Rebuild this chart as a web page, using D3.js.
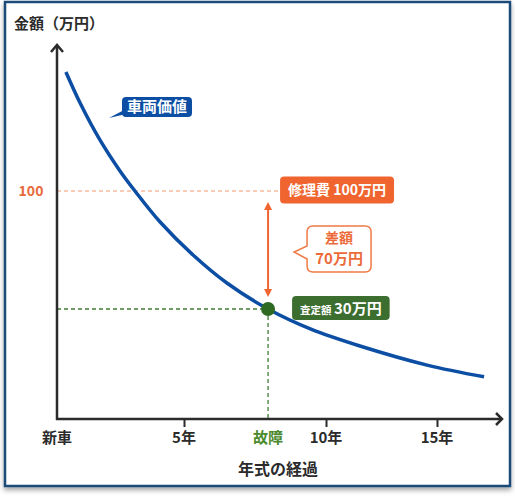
<!DOCTYPE html>
<html>
<head>
<meta charset="utf-8">
<script src="https://cdn.jsdelivr.net/npm/d3@7"></script>
<style>
  body { margin: 0; background: #fff; }
  svg { display: block; }
  text { font-family: "Noto Sans CJK JP", "Noto Sans", sans-serif; font-weight: bold; }
</style>
</head>
<body>
<div id="chart"></div>
<script>
// 車両価値の推移 (経過年, 万円)
var years  = [0.35, 0.91, 1.69, 2.48, 3.07, 4.06, 5.32, 6.51, 7.96, 9.47, 11.53, 14.55, 17.12];
var values = [170.6, 152.2, 130.3, 111.9, 100, 81.6, 62.0, 45.4, 30, 24.5, 19.9, 14.7, 11.5];

var xTicks = [0, 5, 10, 15];
var xTickLabels = ["新車", "5年", "10年", "15年"];
var yTicks = [100];
var yTickLabels = ["100"];

var failYear = 7.96;     // 故障
var repairCost = 100;    // 修理費
var assessed = 30;       // 査定額

var blue = "#0b4ea3", orange = "#f0652f", green = "#3c6e30", ink = "#2b2b2b";

var svg = d3.select("#chart")
    .append("svg")
    .attr("width", 515)
    .attr("height", 496);

// frame with a soft shadow
var defs = svg.append("defs");
defs.append("filter")
    .attr("id", "shadow")
    .attr("x", "-5%").attr("y", "-5%").attr("width", "110%").attr("height", "112%")
  .append("feDropShadow")
    .attr("dx", 0).attr("dy", 3)
    .attr("stdDeviation", 2.5)
    .attr("flood-color", "#000")
    .attr("flood-opacity", 0.35);

svg.append("rect")
    .attr("x", 5).attr("y", 2)
    .attr("width", 505).attr("height", 484)
    .attr("fill", "#fff")
    .attr("stroke", "#1f4b7a")
    .attr("stroke-width", 2.5)
    .attr("filter", "url(#shadow)");

// the illustration spaces its ticks unevenly, so piecewise scales
var x = d3.scaleLinear()
    .domain(xTicks)
    .range([57, 184, 326, 437]);

var y = d3.scaleLinear()
    .domain([0, assessed, repairCost])
    .range([419, 309, 191]);

var x0 = x(0), y0 = y(0);

// guides
svg.append("line")
    .attr("x1", x0).attr("x2", 281)
    .attr("y1", y(repairCost)).attr("y2", y(repairCost))
    .attr("stroke", "#f39a70")
    .attr("stroke-width", 1.2)
    .attr("stroke-dasharray", "4,3");

svg.append("line")
    .attr("x1", x0).attr("x2", x(failYear))
    .attr("y1", y(assessed)).attr("y2", y(assessed))
    .attr("stroke", "#3f7d35")
    .attr("stroke-width", 1.3)
    .attr("stroke-dasharray", "4,3");

svg.append("line")
    .attr("x1", x(failYear)).attr("x2", x(failYear))
    .attr("y1", y(assessed)).attr("y2", y0)
    .attr("stroke", "#3f7d35")
    .attr("stroke-width", 1.3)
    .attr("stroke-dasharray", "4,3");

// x axis
var xAxis = svg.append("g")
    .attr("transform", "translate(0," + y0 + ")")
    .call(d3.axisBottom(x)
        .tickValues(xTicks.slice(1))
        .tickSize(8)
        .tickFormat(""));
xAxis.select(".domain").remove();
xAxis.selectAll("line").attr("stroke", ink).attr("stroke-width", 2);

svg.append("line")
    .attr("x1", x0 - 1).attr("x2", 501)
    .attr("y1", y0).attr("y2", y0)
    .attr("stroke", ink).attr("stroke-width", 2.5);
svg.append("path")
    .attr("d", "M496," + (y0 - 6) + "L502," + y0 + "L496," + (y0 + 6))
    .attr("fill", "none").attr("stroke", ink).attr("stroke-width", 2.5);

// y axis
svg.append("line")
    .attr("x1", x0).attr("x2", x0)
    .attr("y1", y0 + 1).attr("y2", 46)
    .attr("stroke", ink).attr("stroke-width", 2.5);
svg.append("path")
    .attr("d", "M" + (x0 - 6) + ",52L" + x0 + ",45L" + (x0 + 6) + ",52")
    .attr("fill", "none").attr("stroke", ink).attr("stroke-width", 2.5);

// tick labels
svg.selectAll(".xlab")
    .data(xTicks)
    .enter().append("text")
    .attr("class", "xlab")
    .attr("x", function(d) { return x(d); })
    .attr("y", 438)
    .attr("dy", "0.35em")
    .attr("text-anchor", "middle")
    .style("font-size", "15px")
    .style("fill", ink)
    .text(function(d, i) { return xTickLabels[i]; });

svg.append("text")
    .attr("x", x(failYear))
    .attr("y", 438)
    .attr("dy", "0.35em")
    .attr("text-anchor", "middle")
    .style("font-size", "15px")
    .style("fill", "#4b8a2c")
    .text("故障");

svg.selectAll(".ylab")
    .data(yTicks)
    .enter().append("text")
    .attr("class", "ylab")
    .attr("x", 31)
    .attr("y", function(d) { return y(d); })
    .attr("dy", "0.35em")
    .attr("text-anchor", "middle")
    .style("font-size", "14px")
    .style("fill", "#e8693a")
    .text(function(d, i) { return yTickLabels[i]; });

// axis titles
svg.append("text")
    .attr("x", 14).attr("y", 24)
    .attr("dy", "0.35em")
    .style("font-size", "15px")
    .style("fill", ink)
    .text("金額（万円）");

svg.append("text")
    .attr("x", 278).attr("y", 469)
    .attr("dy", "0.35em")
    .attr("text-anchor", "middle")
    .style("font-size", "16px")
    .style("fill", ink)
    .text("年式の経過");

// value curve
var line = d3.line()
    .x(function(d) { return x(d[0]); })
    .y(function(d) { return y(d[1]); })
    .curve(d3.curveCatmullRom.alpha(0.5));

svg.append("path")
    .datum(d3.zip(years, values))
    .attr("d", line)
    .attr("fill", "none")
    .attr("stroke", blue)
    .attr("stroke-width", 3.5)
    .attr("stroke-linecap", "butt");

// double arrow for the difference
var fx = x(failYear);
var aTop = y(repairCost) + 11, aBot = y(assessed) - 12;
svg.append("line")
    .attr("x1", fx).attr("x2", fx)
    .attr("y1", aTop + 6).attr("y2", aBot - 6)
    .attr("stroke", orange).attr("stroke-width", 2);
svg.append("path")
    .attr("d", "M" + fx + "," + aTop + "l-4,8h8z")
    .attr("fill", orange);
svg.append("path")
    .attr("d", "M" + fx + "," + aBot + "l-4,-8h8z")
    .attr("fill", orange);

// failure point
svg.append("circle")
    .attr("cx", fx).attr("cy", y(assessed))
    .attr("r", 7)
    .attr("fill", "#2f6a22");

// label box helper: text first, then a rect sized to it
function labelBox(left, cy, padX, h, fill, build) {
    var g = svg.append("g");
    var t = g.append("text")
        .attr("x", left + padX)
        .attr("y", cy)
        .attr("dy", "0.35em")
        .style("fill", "#fff");
    build(t);
    var w = t.node().getComputedTextLength() + padX * 2;
    g.insert("rect", "text")
        .attr("x", left).attr("y", cy - h / 2)
        .attr("width", w).attr("height", h)
        .attr("rx", 4)
        .attr("fill", fill);
    return g;
}

// 車両価値
var vb = labelBox(122, 107, 5, 20, blue, function(t) {
    t.style("font-size", "15px").text("車両価値");
});
vb.insert("path", "rect")
    .attr("d", "M124,110L109,118L126,114z")
    .attr("fill", blue);

// 修理費
labelBox(fx + 12, y(repairCost) - 1, 8, 27, orange, function(t) {
    t.style("font-size", "14px").text("修理費 " + repairCost + "万円");
});

// 査定額
labelBox(fx + 24, y(assessed) - 1, 8, 24, green, function(t) {
    t.append("tspan").style("font-size", "10.5px").text("査定額 ");
    t.append("tspan").style("font-size", "15px").text(assessed + "万円");
});

// 差額 callout
var cx0 = fx + 39, cx1 = fx + 103, cy0 = 226, cy1 = 272;
var midY = (y(repairCost) + y(assessed)) / 2;
svg.append("path")
    .attr("d", "M" + (cx0 + 6) + "," + cy0 +
        "H" + (cx1 - 6) + "Q" + cx1 + "," + cy0 + " " + cx1 + "," + (cy0 + 6) +
        "V" + (cy1 - 6) + "Q" + cx1 + "," + cy1 + " " + (cx1 - 6) + "," + cy1 +
        "H" + (cx0 + 6) + "Q" + cx0 + "," + cy1 + " " + cx0 + "," + (cy1 - 6) +
        "V" + (midY + 9) + "L" + (fx + 26) + "," + (midY + 2) + "L" + cx0 + "," + (midY - 4) +
        "V" + (cy0 + 6) + "Q" + cx0 + "," + cy0 + " " + (cx0 + 6) + "," + cy0 + "Z")
    .attr("fill", "#fff")
    .attr("stroke", "#f07a45")
    .attr("stroke-width", 1.5);

svg.append("text")
    .attr("x", (cx0 + cx1) / 2).attr("y", 238)
    .attr("dy", "0.35em")
    .attr("text-anchor", "middle")
    .style("font-size", "14px")
    .style("fill", "#ec6a38")
    .text("差額");
svg.append("text")
    .attr("x", (cx0 + cx1) / 2).attr("y", 259)
    .attr("dy", "0.35em")
    .attr("text-anchor", "middle")
    .style("font-size", "15px")
    .style("fill", "#ec6a38")
    .text((repairCost - assessed) + "万円");
</script>
</body>
</html>
